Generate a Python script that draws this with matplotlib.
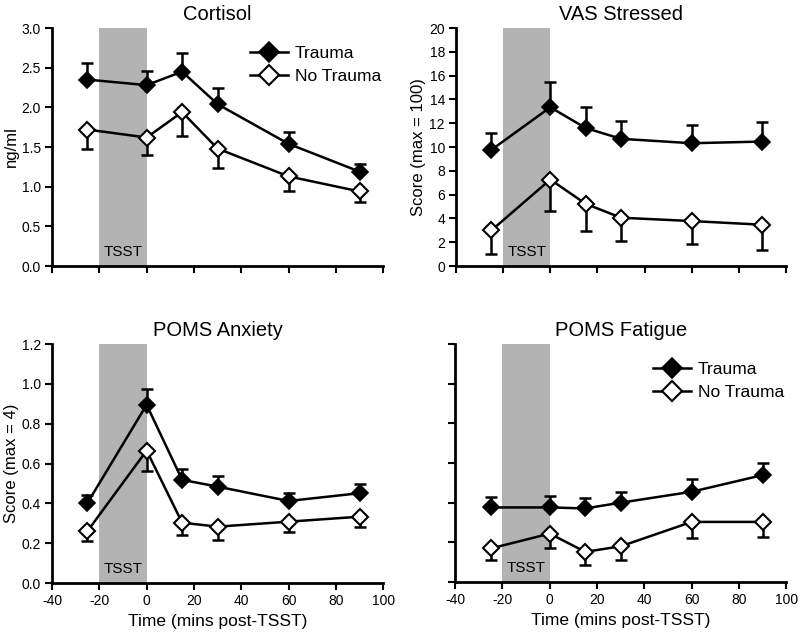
import matplotlib
matplotlib.use("Agg")
import matplotlib.pyplot as plt

plt.rcParams['font.family'] = ['Liberation Sans', 'DejaVu Sans']

time = [-25, 0, 15, 30, 60, 90]

cort_trauma = [2.35, 2.28, 2.45, 2.04, 1.54, 1.19]
cort_trauma_err = [0.21, 0.18, 0.24, 0.20, 0.15, 0.10]
cort_none = [1.72, 1.62, 1.94, 1.48, 1.13, 0.94]
cort_none_err = [0.24, 0.22, 0.30, 0.24, 0.18, 0.13]

vas_trauma = [9.76, 13.34, 11.6, 10.69, 10.32, 10.46]
vas_trauma_err = [1.43, 2.10, 1.80, 1.53, 1.54, 1.62]
vas_none = [2.99, 7.27, 5.23, 4.06, 3.78, 3.47]
vas_none_err = [1.96, 2.65, 2.32, 1.99, 1.93, 2.16]

anx_trauma = [0.402, 0.895, 0.518, 0.484, 0.412, 0.451]
anx_trauma_err = [0.038, 0.080, 0.053, 0.054, 0.039, 0.045]
anx_none = [0.261, 0.665, 0.303, 0.283, 0.308, 0.333]
anx_none_err = [0.050, 0.102, 0.063, 0.067, 0.052, 0.053]

fat_trauma = [0.376, 0.376, 0.371, 0.400, 0.455, 0.539]
fat_trauma_err = [0.054, 0.059, 0.054, 0.052, 0.062, 0.061]
fat_none = [0.169, 0.244, 0.152, 0.180, 0.303, 0.303]
fat_none_err = [0.059, 0.075, 0.068, 0.067, 0.079, 0.075]

panels = [
    dict(title="Cortisol", ylabel="ng/ml", ylim=(0, 3.0), yticks=[0, 0.5, 1.0, 1.5, 2.0, 2.5, 3.0],
         yfmt="{:.1f}", tr=cort_trauma, tre=cort_trauma_err, nt=cort_none, nte=cort_none_err,
         rect=[0.065, 0.5804, 0.414, 0.3754], xlabels=False, ylabels=True, legend=True),
    dict(title="VAS Stressed", ylabel="Score (max = 100)", ylim=(0, 20), yticks=list(range(0, 21, 2)),
         yfmt="{:d}", tr=vas_trauma, tre=vas_trauma_err, nt=vas_none, nte=vas_none_err,
         rect=[0.570, 0.5804, 0.4125, 0.3754], xlabels=False, ylabels=True, legend=False),
    dict(title="POMS Anxiety", ylabel="Score (max = 4)", ylim=(0, 1.2), yticks=[0, 0.2, 0.4, 0.6, 0.8, 1.0, 1.2],
         yfmt="{:.1f}", tr=anx_trauma, tre=anx_trauma_err, nt=anx_none, nte=anx_none_err,
         rect=[0.065, 0.0804, 0.414, 0.377], xlabels=True, ylabels=True, legend=False),
    dict(title="POMS Fatigue", ylabel="", ylim=(0, 1.2), yticks=[0, 0.2, 0.4, 0.6, 0.8, 1.0, 1.2],
         yfmt="{:.1f}", tr=fat_trauma, tre=fat_trauma_err, nt=fat_none, nte=fat_none_err,
         rect=[0.569, 0.082, 0.4138, 0.3754], xlabels=True, ylabels=False, legend=True),
]

fig = plt.figure(figsize=(8, 6.34), dpi=100)

for p in panels:
    ax = fig.add_axes(p["rect"])
    ax.axvspan(-20, 0, color='#b3b3b3', zorder=0, lw=0)
    ax.annotate("TSST", xy=(-10, 0), xycoords='data', xytext=(0, 5), textcoords='offset points',
                ha='center', va='bottom', fontsize=11, zorder=1)
    zero = [0] * len(time)
    ax.errorbar(time, p["tr"], yerr=[zero, p["tre"]], fmt='none', ecolor='black',
                elinewidth=1.8, capsize=4, capthick=1.8, zorder=2)
    ax.errorbar(time, p["nt"], yerr=[p["nte"], zero], fmt='none', ecolor='black',
                elinewidth=1.8, capsize=4, capthick=1.8, zorder=2)
    ax.plot(time, p["tr"], color='black', lw=1.8, marker='D', ms=8.5,
            mfc='black', mec='black', mew=1.2, zorder=3, label='Trauma')
    ax.plot(time, p["nt"], color='black', lw=1.8, marker='D', ms=8.5,
            mfc='white', mec='black', mew=1.5, zorder=3, label='No Trauma')
    ax.set_xlim(-40, 100)
    ax.set_ylim(*p["ylim"])
    ax.set_xticks(range(-40, 101, 20))
    ax.set_yticks(p["yticks"])
    if p["xlabels"]:
        ax.set_xticklabels([str(v) for v in range(-40, 101, 20)])
        ax.set_xlabel("Time (mins post-TSST)", fontsize=12.5, labelpad=4)
    else:
        ax.set_xticklabels([])
    if p["ylabels"]:
        if p["yfmt"] == "{:d}":
            ax.set_yticklabels([p["yfmt"].format(int(v)) for v in p["yticks"]])
        else:
            ax.set_yticklabels([p["yfmt"].format(v) for v in p["yticks"]])
        ax.set_ylabel(p["ylabel"], fontsize=12, labelpad=2)
    else:
        ax.set_yticklabels([])
    ax.set_title(p["title"], fontsize=14.5, pad=6)
    for s in ['top', 'right']:
        ax.spines[s].set_visible(False)
    for s in ['left', 'bottom']:
        ax.spines[s].set_linewidth(2)
    ax.tick_params(direction='out', length=5, width=1.5, labelsize=10, pad=3)
    if p["legend"]:
        ax.legend(loc='upper right', bbox_to_anchor=(1.015, 0.955), frameon=False, fontsize=12.5,
                  handlelength=2.2, markerscale=1.25, borderaxespad=0.0, handletextpad=0.4,
                  labelspacing=0.45)

fig.savefig("out.png", dpi=100)
